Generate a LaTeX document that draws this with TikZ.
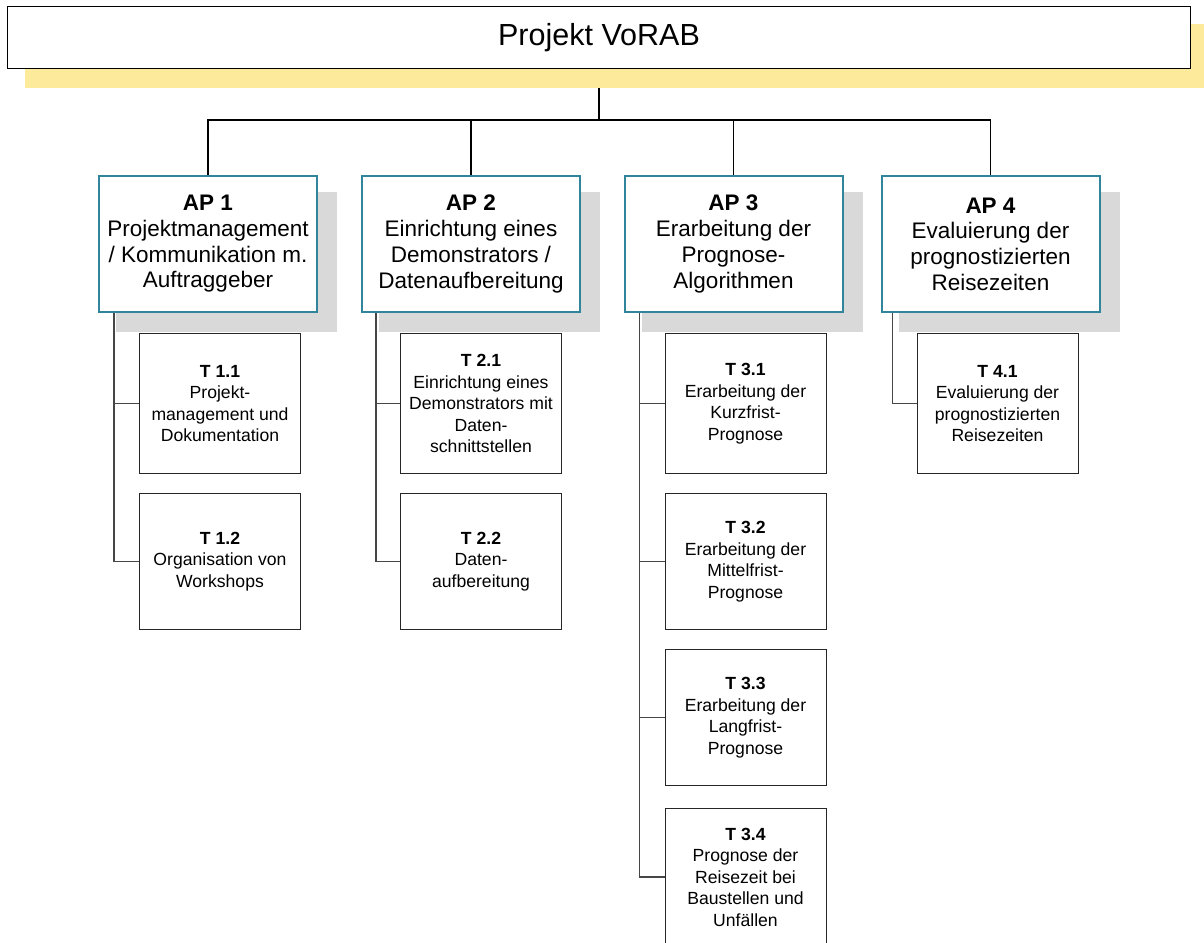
\documentclass[tikz,border=0pt]{standalone}
\usepackage{fontspec}
\setmainfont{Liberation Sans}
\pgfdeclarelayer{conn}
\pgfdeclarelayer{shade}
\pgfsetlayers{conn,shade,main}
\definecolor{apteal}{RGB}{49,133,155}
\definecolor{yshade}{RGB}{254,234,155}
\definecolor{gshade}{RGB}{217,217,217}
\definecolor{subline}{RGB}{70,70,70}
\begin{document}
\begin{tikzpicture}[x=1pt,y=-1pt,
  topbox/.style={draw=black, line width=1.2pt, fill=white, minimum width=1183pt, minimum height=62pt, inner sep=0pt, font=\fontsize{30.5}{36}\selectfont},
  apbox/.style={draw=apteal, line width=2pt, fill=white, minimum width=218pt, minimum height=136pt, inner sep=0pt, align=center, font=\fontsize{22.5}{25.7}\selectfont},
  tbox/.style={draw=black!85, line width=1pt, fill=white, minimum width=161pt, minimum height=136pt, inner sep=0pt, align=center, font=\fontsize{17.6}{21.5}\selectfont},
  bar/.style={draw=black, line width=1.6pt},
  sub/.style={draw=subline, line width=1.2pt},
  yshadow/.style={fill=yshade},
  gshadow/.style={fill=gshade},
]
\useasboundingbox (0,0) rectangle (1204,942);

% top box
\node[topbox] (top) at (599,37.5) {Projekt VoRAB};

% AP boxes
\node[apbox] (ap1) at (208,244) {\textbf{AP 1}\\Projektmanagement\\/ Kommunikation m.\\Auftraggeber};
\node[apbox] (ap2) at (471,244) {\textbf{AP 2}\\Einrichtung eines\\Demonstrators /\\Datenaufbereitung};
\node[apbox] (ap3) at (733.5,244) {\textbf{AP 3}\\Erarbeitung der\\Prognose-\\Algorithmen};
\node[apbox] (ap4) at (990.5,244) {\textbf{AP 4}\\Evaluierung der\\prognostizierten\\Reisezeiten};

% T boxes
\node[tbox, minimum height=140pt] (t11) at (220,403.5) {\textbf{T 1.1}\\Projekt-\\management und\\Dokumentation};
\node[tbox] (t12) at (220,561.5) {\textbf{T 1.2}\\Organisation von\\Workshops};
\node[tbox, minimum height=140pt] (t21) at (481,403.5) {\textbf{T 2.1}\\Einrichtung eines\\Demonstrators mit\\Daten-\\schnittstellen};
\node[tbox] (t22) at (481,561.5) {\textbf{T 2.2}\\Daten-\\aufbereitung};
\node[tbox, minimum height=140pt] (t31) at (745.5,403.5) {\textbf{T 3.1}\\Erarbeitung der\\Kurzfrist-\\Prognose};
\node[tbox] (t32) at (745.5,561.5) {\textbf{T 3.2}\\Erarbeitung der\\Mittelfrist-\\Prognose};
\node[tbox] (t33) at (745.5,717.5) {\textbf{T 3.3}\\Erarbeitung der\\Langfrist-\\Prognose};
\node[tbox, minimum height=137pt] (t34) at (745.5,877) {\textbf{T 3.4}\\Prognose der\\Reisezeit bei\\Baustellen und\\Unfällen};
\node[tbox, minimum height=140pt] (t41) at (997.5,403.5) {\textbf{T 4.1}\\Evaluierung der\\prognostizierten\\Reisezeiten};

% shadows
\begin{pgfonlayer}{shade}
  \fill[yshadow] (25,24) rectangle (1204,88);
  \foreach \n in {ap1,ap2,ap3,ap4}{
    \fill[gshadow] ([xshift=18pt,yshift=-17pt]\n.north west) rectangle ([xshift=19pt,yshift=-19pt]\n.south east);
  }
\end{pgfonlayer}

% connectors
\begin{pgfonlayer}{conn}
  \coordinate (hub) at (599,120);
  \draw[bar] (top.south) -- (hub);
  \draw[bar] (ap1.north) |- (ap4.north |- hub) -- (ap4.north);
  \draw[bar] (ap2.north) -- (ap2.north |- hub);
  \draw[bar] (ap3.north) -- (ap3.north |- hub);

  \coordinate (s1) at ([xshift=16pt]ap1.south west);
  \coordinate (s2) at ([xshift=15pt]ap2.south west);
  \coordinate (s3) at ([xshift=16pt]ap3.south west);
  \coordinate (s4) at ([xshift=12pt]ap4.south west);
  \draw[sub] (s1) |- (t11.west);
  \draw[sub] (s1) |- (t12.west);
  \draw[sub] (s2) |- (t21.west);
  \draw[sub] (s2) |- (t22.west);
  \draw[sub] (s3) |- (t31.west);
  \draw[sub] (s3) |- (t32.west);
  \draw[sub] (s3) |- (t33.west);
  \draw[sub] (s3) |- (t34.west);
  \draw[sub] (s4) |- (t41.west);
\end{pgfonlayer}
\end{tikzpicture}
\end{document}
